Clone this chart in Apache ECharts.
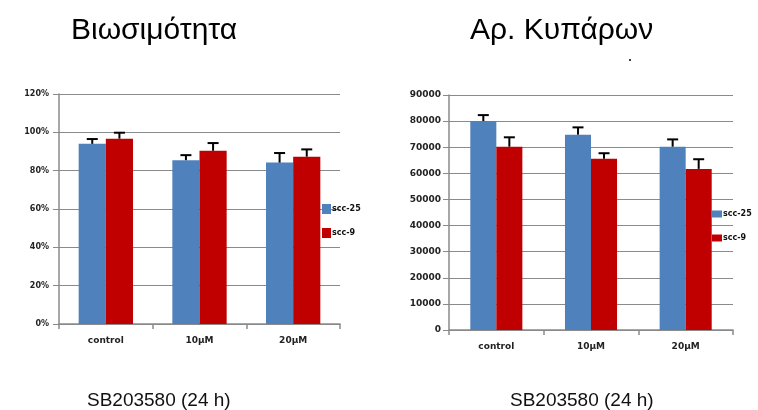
<!DOCTYPE html>
<html>
<head>
<meta charset="utf-8">
<script src="https://cdn.jsdelivr.net/npm/echarts@6/dist/echarts.min.js"></script>
<style>
html,body{margin:0;padding:0;background:#fff;}
#chart{width:758px;height:410px;}
</style>
</head>
<body>
<div id="chart"></div>
<script>
// ---- data ----
const categories = ['control', '10μM', '20μM'];
const seriesNames = ['scc-25', 'scc-9'];

const viabilityScc25 = [0.94, 0.855, 0.842];
const viabilityScc9 = [0.967, 0.904, 0.873];
const viabilityErr25 = [0.025, 0.026, 0.05];
const viabilityErr9 = [0.031, 0.04, 0.038];

const cellsScc25 = [80000, 74800, 70200];
const cellsScc9 = [70200, 65600, 61700];
const cellsErr25 = [2300, 2800, 2800];
const cellsErr9 = [3600, 2100, 3700];

const leftTitle = 'Βιωσιμότητα';
const rightTitle = 'Αρ. Κυπάρων';
const xCaption = 'SB203580 (24 h)';

// ---- style ----
const BLUE = '#4F81BD';
const RED = '#C00000';
const GRID_GRAY = '#8a8a8a';
const LABEL_FONT = 'DejaVu Sans';

function errorSeries(xAxisIndex, yAxisIndex, values, errs, side, gapFrac) {
  return {
    type: 'custom',
    xAxisIndex: xAxisIndex,
    yAxisIndex: yAxisIndex,
    silent: true,
    z: 5,
    data: values.map((v, i) => [i, v, v + errs[i]]),
    renderItem: function (params, api) {
      const idx = api.value(0);
      const lo = api.coord([idx, api.value(1)]);
      const hi = api.coord([idx, api.value(2)]);
      const band = api.size([1, 0])[0];
      const bw = band * (1 - gapFrac) / 2;
      const x = lo[0] + side * bw / 2;
      const cap = 5.5;
      const st = { stroke: '#000', lineWidth: 2 };
      return {
        type: 'group',
        children: [
          { type: 'line', shape: { x1: x, y1: lo[1], x2: x, y2: hi[1] }, style: st },
          { type: 'line', shape: { x1: x - cap, y1: hi[1], x2: x + cap, y2: hi[1] }, style: st }
        ]
      };
    }
  };
}

function xAxisDef(gridIndex) {
  return {
    type: 'category',
    gridIndex: gridIndex,
    data: categories,
    boundaryGap: true,
    axisLine: { lineStyle: { color: GRID_GRAY, width: 1.5 } },
    axisTick: { show: true, length: 5, lineStyle: { color: GRID_GRAY, width: 1.5 } },
    axisLabel: { color: '#222', fontFamily: LABEL_FONT, fontWeight: 'bold', fontSize: 9, margin: 12 }
  };
}

const leftGap = 0.42;
const rightGap = 0.45;

const option = {
  animation: false,
  backgroundColor: '#fff',
  grid: [
    { left: 59, top: 94, width: 281, height: 230 },
    { left: 449, top: 95, width: 284, height: 235 }
  ],
  xAxis: [xAxisDef(0), xAxisDef(1)],
  yAxis: [
    {
      type: 'value', gridIndex: 0, min: 0, max: 1.2, interval: 0.2,
      axisLine: { show: true, lineStyle: { color: GRID_GRAY, width: 1.5 } },
      axisTick: { show: true, length: 6, lineStyle: { color: GRID_GRAY } },
      splitLine: { lineStyle: { color: GRID_GRAY, width: 1.2 } },
      axisLabel: {
        color: '#222', fontFamily: LABEL_FONT, fontWeight: 'bold', fontSize: 8, margin: 10,
        formatter: v => Math.round(v * 100) + '%'
      }
    },
    {
      type: 'value', gridIndex: 1, min: 0, max: 90000, interval: 10000,
      axisLine: { show: true, lineStyle: { color: GRID_GRAY, width: 1.5 } },
      axisTick: { show: true, length: 6, lineStyle: { color: GRID_GRAY } },
      splitLine: { lineStyle: { color: GRID_GRAY, width: 1.2 } },
      axisLabel: { color: '#222', fontFamily: LABEL_FONT, fontWeight: 'bold', fontSize: 9, margin: 8,
        formatter: v => String(v) }
    }
  ],
  legend: [
    {
      data: seriesNames, orient: 'vertical', left: 322, top: 204,
      icon: 'rect', itemWidth: 9, itemHeight: 10, itemGap: 14, padding: 0,
      textStyle: { color: '#111', fontFamily: LABEL_FONT, fontWeight: 'bold', fontSize: 8, padding: [0, 0, 0, -4] }
    },
    {
      data: seriesNames, orient: 'vertical', left: 712, top: 210,
      icon: 'rect', itemWidth: 10, itemHeight: 7, itemGap: 16, padding: 0,
      textStyle: { color: '#111', fontFamily: LABEL_FONT, fontWeight: 'bold', fontSize: 8, padding: [0, 0, 0, -4] }
    }
  ],
  series: [
    { name: seriesNames[0], type: 'bar', xAxisIndex: 0, yAxisIndex: 0, data: viabilityScc25,
      itemStyle: { color: BLUE }, barGap: '0%', barCategoryGap: (leftGap * 100) + '%' },
    { name: seriesNames[1], type: 'bar', xAxisIndex: 0, yAxisIndex: 0, data: viabilityScc9,
      itemStyle: { color: RED }, barGap: '0%', barCategoryGap: (leftGap * 100) + '%' },
    { name: seriesNames[0], type: 'bar', xAxisIndex: 1, yAxisIndex: 1, data: cellsScc25,
      itemStyle: { color: BLUE }, barGap: '0%', barCategoryGap: (rightGap * 100) + '%' },
    { name: seriesNames[1], type: 'bar', xAxisIndex: 1, yAxisIndex: 1, data: cellsScc9,
      itemStyle: { color: RED }, barGap: '0%', barCategoryGap: (rightGap * 100) + '%' },
    errorSeries(0, 0, viabilityScc25, viabilityErr25, -1, leftGap),
    errorSeries(0, 0, viabilityScc9, viabilityErr9, 1, leftGap),
    errorSeries(1, 1, cellsScc25, cellsErr25, -1, rightGap),
    errorSeries(1, 1, cellsScc9, cellsErr9, 1, rightGap)
  ],
  graphic: [
    { type: 'text', left: 71, top: 16, style: { text: leftTitle, font: '30px "Liberation Sans"', fill: '#000' } },
    { type: 'text', left: 470, top: 16, style: { text: rightTitle, font: '30px "Liberation Sans"', fill: '#000' } },
    { type: 'circle', shape: { cx: 630, cy: 60, r: 1 }, style: { fill: '#000' } },
    { type: 'text', left: 87, top: 391, style: { text: xCaption, font: '19px "Liberation Sans"', fill: '#111' } },
    { type: 'text', left: 510, top: 391, style: { text: xCaption, font: '19px "Liberation Sans"', fill: '#111' } }
  ]
};

const chart = echarts.init(document.getElementById('chart'), null, { renderer: 'canvas' });
chart.setOption(option);
</script>
</body>
</html>
